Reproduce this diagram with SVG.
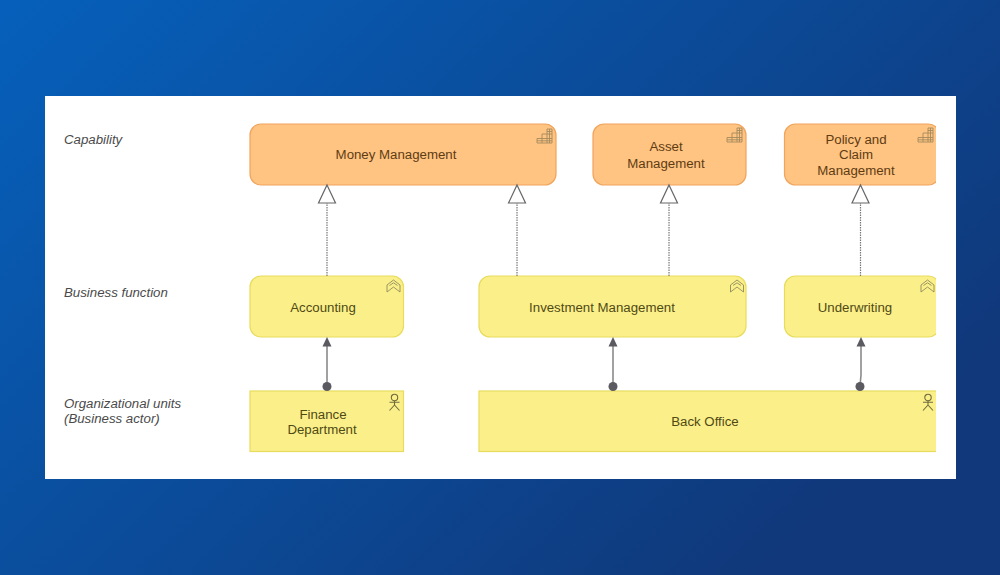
<svg xmlns="http://www.w3.org/2000/svg" width="1000" height="575" viewBox="0 0 1000 575">
<style>
text{font-family:"Liberation Sans",Arial,sans-serif;font-size:13.25px;text-anchor:middle}
.cap rect{fill:#ffc382;stroke:#f0a45c;stroke-width:1.2}
.cap text{fill:#5e3c12}
.yel rect{fill:#fbef8a;stroke:#e8dc5e;stroke-width:1.2}
.yel text{fill:#4f4a14}
.lab{fill:#4a4a4a;font-style:italic;text-anchor:start}
.dot{fill:none;stroke:#777;stroke-width:1.2;stroke-dasharray:1.5 1}
.tri{fill:#fff;stroke:#666;stroke-width:1.2}
.ser{fill:none;stroke:#8a8a8a;stroke-width:1.6}
.hd{fill:#5a5a60}
.ic{fill:none;stroke:#a58a5c;stroke-width:.9}
.fn{fill:none;stroke:#8f8b5c;stroke-width:.9}
.ac{fill:none;stroke:#6f6c3c;stroke-width:1.1}
</style>
<defs>
<linearGradient id="bg" x1="0" y1="0" x2="1" y2="0.6"><stop offset="0" stop-color="#0660bb"/><stop offset="1" stop-color="#10387a"/></linearGradient>
<clipPath id="edge"><rect x="0" y="0" width="936" height="575"/></clipPath>
<g id="capi"><path class="ic" d="M0 9.500H5V5H10V0H15V14H0Z"/><path class="ic" d="M5 9.500V14M10 5V14M0 11.800H15M5 9.500H15M10 5H15M12.500 0V14M10 2.500H15"/></g>
<g id="func"><path class="fn" d="M0 5L6.500 0L13 5V12L6.500 7L0 12Z"/><path class="fn" d="M2.500 5.500L6.500 2.800L10.500 5.500"/></g>
<g id="act"><circle class="ac" cx="5.500" cy="3.500" r="3.200"/><path class="ac" d="M5.500 6.700V11M0.500 8.200H10.500M5.500 11L0.500 16.500M5.500 11L10.500 16.500"/></g>
</defs>
<rect width="1000" height="575" fill="url(#bg)"/>
<rect x="45" y="96" width="911" height="383" fill="#fff"/>
<g id="labels">
<text class="lab" x="64" y="144">Capability</text>
<text class="lab" x="64" y="297">Business function</text>
<text class="lab" x="64" y="408">Organizational units</text>
<text class="lab" x="64" y="423">(Business actor)</text>
</g>
<g id="money" class="cap"><rect x="250" y="124" width="306" height="61" rx="11"/><text x="396" y="159">Money Management</text><use href="#capi" x="537" y="129"/></g>
<g id="asset" class="cap"><rect x="593" y="124" width="153" height="61" rx="11"/><text x="666" y="151">Asset</text><text x="666" y="168">Management</text><use href="#capi" x="727" y="128"/></g>
<g id="policy" class="cap"><rect x="784.500" y="124" width="155" height="61" rx="11" clip-path="url(#edge)"/><text x="856" y="144">Policy and</text><text x="856" y="159">Claim</text><text x="856" y="175">Management</text><use href="#capi" x="918" y="128"/></g>
<g id="accounting" class="yel"><rect x="250" y="276" width="153.500" height="61" rx="11"/><text x="323" y="312">Accounting</text><use href="#func" x="387" y="280"/></g>
<g id="investment" class="yel"><rect x="479" y="276" width="267" height="61" rx="11"/><text x="602" y="312">Investment Management</text><use href="#func" x="730.500" y="280"/></g>
<g id="underwriting" class="yel"><rect x="784.500" y="276" width="155" height="61" rx="11" clip-path="url(#edge)"/><text x="855" y="312">Underwriting</text><use href="#func" x="921" y="280"/></g>
<g id="finance" class="yel"><rect x="250" y="391" width="153.500" height="60.500"/><text x="323" y="419">Finance</text><text x="322" y="434">Department</text><use href="#act" x="389" y="394"/></g>
<g id="backoffice" class="yel"><rect x="479" y="391" width="462" height="60.500" clip-path="url(#edge)"/><text x="705" y="426">Back Office</text><use href="#act" x="922.500" y="394"/></g>
<g id="connectors">
<path class="dot" d="M327 276V203"/><path class="tri" d="M327 185L335.500 203H318.500Z"/>
<path class="dot" d="M517 276V203"/><path class="tri" d="M517 185L525.500 203H508.500Z"/>
<path class="dot" d="M669 276V203"/><path class="tri" d="M669 185L677.500 203H660.500Z"/>
<path class="dot" d="M860.500 276V203"/><path class="tri" d="M860.500 185L869 203H852Z"/>
<path class="ser" d="M327 346V386"/><path class="hd" d="M327 337L331.500 346.500H322.500Z"/><circle class="hd" cx="327" cy="386.500" r="4.500"/>
<path class="ser" d="M613 346V386"/><path class="hd" d="M613 337L617.500 346.500H608.500Z"/><circle class="hd" cx="613" cy="386.500" r="4.500"/>
<path class="ser" d="M861 346V375L860 386"/><path class="hd" d="M861 337L865.500 346.500H856.500Z"/><circle class="hd" cx="860" cy="386.500" r="4.500"/>
</g>
</svg>
